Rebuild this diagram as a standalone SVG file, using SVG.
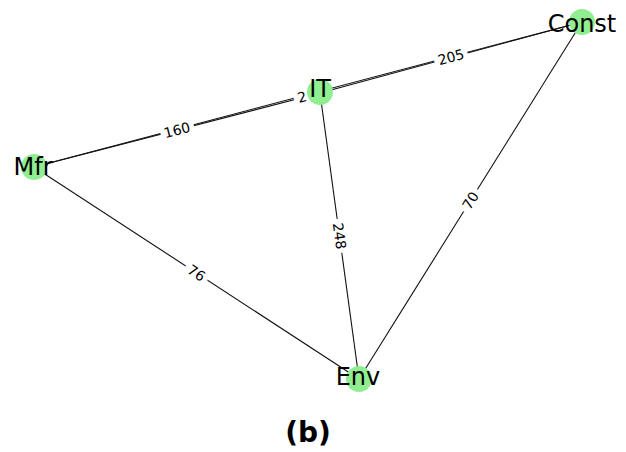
<svg xmlns="http://www.w3.org/2000/svg" width="626" height="452" viewBox="0 0 626 452">
<style>
.edge{stroke:#111;stroke-width:1.1;fill:none}
.node circle{fill:#90EE90}
.node text{font-family:"DejaVu Sans",sans-serif;font-size:24px;fill:#000;text-anchor:middle}
.el{font-family:"DejaVu Sans",sans-serif;font-size:14px;fill:#000;text-anchor:middle;dominant-baseline:central;stroke:#fff;stroke-width:10;paint-order:stroke;stroke-linejoin:miter}
.cap{font-family:"DejaVu Sans",sans-serif;font-size:28px;font-weight:bold;text-anchor:middle;fill:#000}
</style>
<rect width="626" height="452" fill="#fff"/>
<g id="connectors">
<line class="edge" x1="34" y1="167" x2="320" y2="93"/>
<line class="edge" x1="320" y1="93" x2="582" y2="22"/>
<line class="edge" x1="34" y1="167" x2="582" y2="22"/>
<line class="edge" x1="320" y1="93" x2="359" y2="379"/>
<line class="edge" x1="582" y1="22" x2="359" y2="379"/>
<line class="edge" x1="34" y1="167" x2="359" y2="379"/>
<text class="el" transform="translate(177,130) rotate(-14.5)">160</text>
<text class="el" transform="translate(451,57) rotate(-15.2)">205</text>
<text class="el" transform="translate(302,97) rotate(-14.8)">2</text>
<text class="el" transform="translate(339.5,236) rotate(82.3)">248</text>
<text class="el" transform="translate(470.5,200.5) rotate(-58)">70</text>
<text class="el" transform="translate(196.5,273) rotate(33.2)">76</text>
</g>
<g id="node-Mfr" class="node"><circle cx="34" cy="167" r="13"/><text x="33" y="175">Mfr</text></g>
<g id="node-IT" class="node"><circle cx="320" cy="92" r="13"/><text x="320" y="97">IT</text></g>
<g id="node-Const" class="node"><circle cx="582" cy="22" r="13"/><text x="582" y="32">Const</text></g>
<g id="node-Env" class="node"><circle cx="359" cy="379" r="13"/><text x="358" y="385">Env</text></g>
<text class="cap" x="308" y="442">(b)</text>
</svg>
